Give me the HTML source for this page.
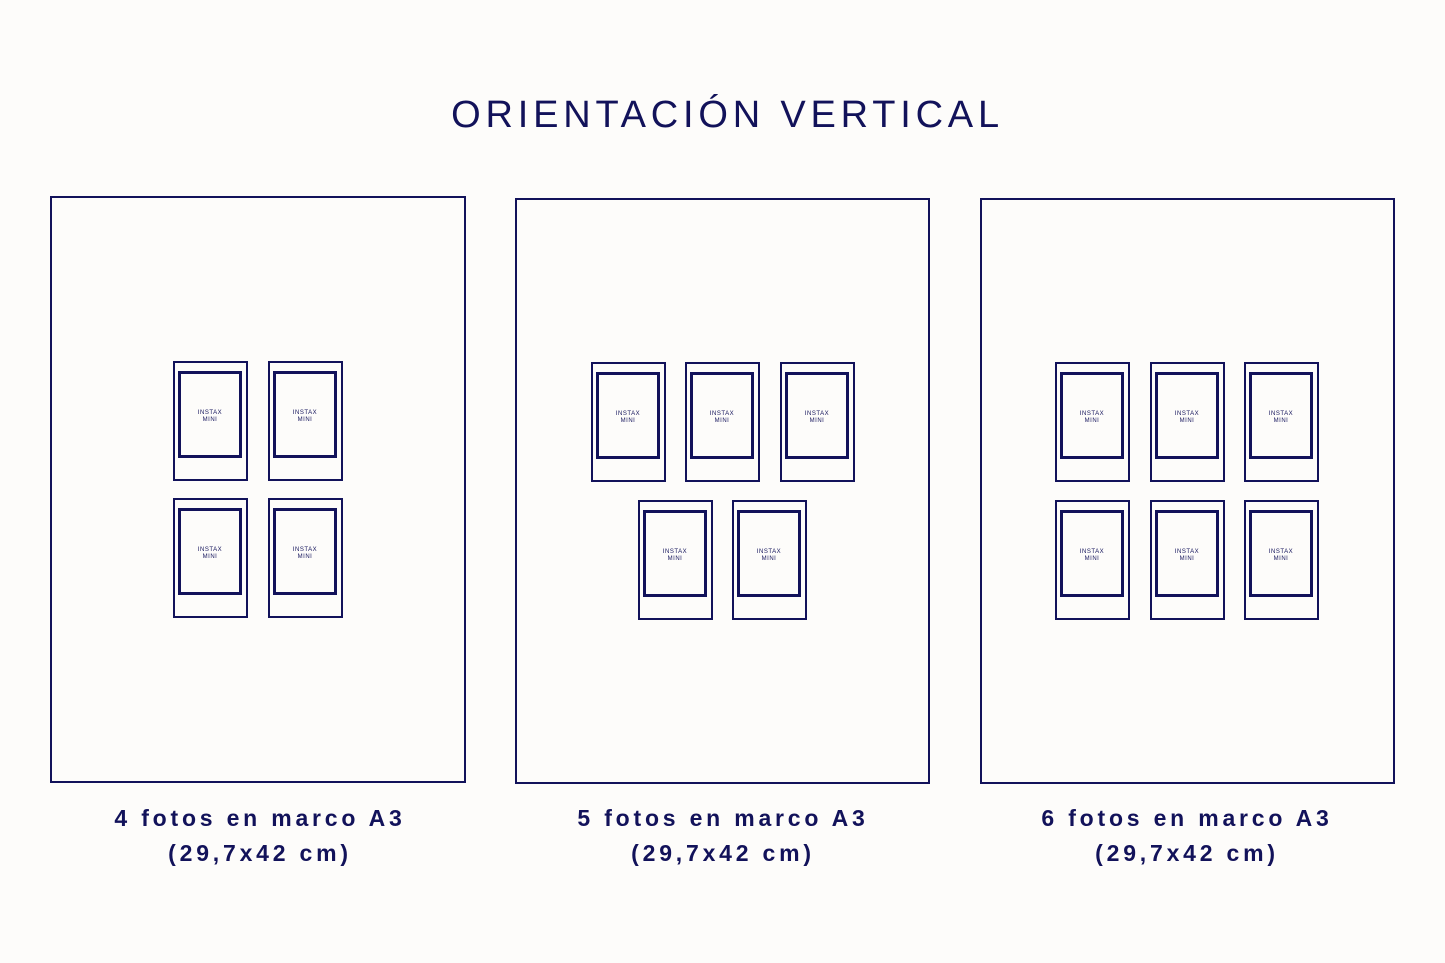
<!DOCTYPE html>
<html><head><meta charset="utf-8"><style>
body{margin:0;width:1445px;height:963px;background:#fdfcfa;position:relative;overflow:hidden;font-family:"Liberation Sans",sans-serif;color:#12125a}
.f{position:absolute;border:2.5px solid #12125a;box-sizing:border-box}
.p{position:absolute;width:75px;height:120px;border:2.5px solid #12125a;box-sizing:border-box}
.p i{position:absolute;left:3px;top:8px;width:64px;height:87px;border:3px solid #12125a;box-sizing:border-box;font-style:normal;font-size:6px;letter-spacing:0.5px;text-align:center;line-height:7px;padding-top:36px}
.t{position:absolute;left:5px;width:1445px;text-align:center;top:94px;font-size:38px;letter-spacing:4.8px}
.l{position:absolute;width:420px;text-align:center;font-size:23px;font-weight:bold;letter-spacing:3.8px;line-height:35px;top:801px}
</style></head><body>
<div class="t">ORIENTACIÓN VERTICAL</div>
<div class="f" style="left:50px;top:196px;width:416px;height:587px"></div>
<div class="f" style="left:515px;top:198px;width:415px;height:586px"></div>
<div class="f" style="left:980px;top:198px;width:415px;height:586px"></div>

<div class="p" style="left:173px;top:361px"><i>INSTAX<br>MINI</i></div>
<div class="p" style="left:268px;top:361px"><i>INSTAX<br>MINI</i></div>
<div class="p" style="left:173px;top:498px"><i>INSTAX<br>MINI</i></div>
<div class="p" style="left:268px;top:498px"><i>INSTAX<br>MINI</i></div>

<div class="p" style="left:591px;top:362px"><i>INSTAX<br>MINI</i></div>
<div class="p" style="left:685px;top:362px"><i>INSTAX<br>MINI</i></div>
<div class="p" style="left:780px;top:362px"><i>INSTAX<br>MINI</i></div>
<div class="p" style="left:638px;top:500px"><i>INSTAX<br>MINI</i></div>
<div class="p" style="left:732px;top:500px"><i>INSTAX<br>MINI</i></div>

<div class="p" style="left:1055px;top:362px"><i>INSTAX<br>MINI</i></div>
<div class="p" style="left:1150px;top:362px"><i>INSTAX<br>MINI</i></div>
<div class="p" style="left:1244px;top:362px"><i>INSTAX<br>MINI</i></div>
<div class="p" style="left:1055px;top:500px"><i>INSTAX<br>MINI</i></div>
<div class="p" style="left:1150px;top:500px"><i>INSTAX<br>MINI</i></div>
<div class="p" style="left:1244px;top:500px"><i>INSTAX<br>MINI</i></div>

<div class="l" style="left:50px">4 fotos en marco A3<br>(29,7x42 cm)</div>
<div class="l" style="left:513px">5 fotos en marco A3<br>(29,7x42 cm)</div>
<div class="l" style="left:977px">6 fotos en marco A3<br>(29,7x42 cm)</div>
</body></html>
